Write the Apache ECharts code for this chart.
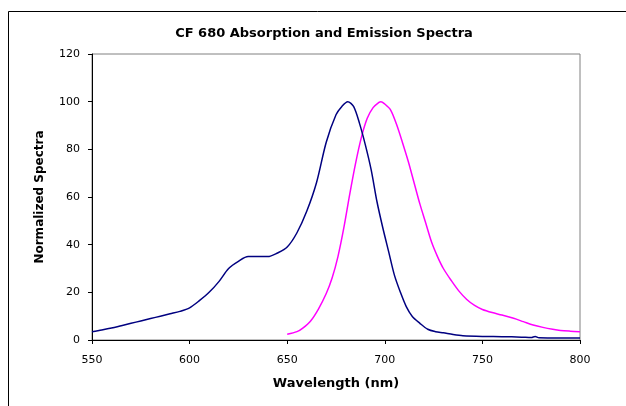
<!DOCTYPE html>
<html>
<head>
<meta charset="utf-8">
<script src="https://cdn.jsdelivr.net/npm/echarts@6/dist/echarts.min.js"></script>
<style>
  html, body { margin: 0; padding: 0; background: #fff; }
  #chart { width: 626px; height: 406px; }
</style>
</head>
<body>
<div id="chart"></div>
<script>
// absorption (navy) - wavelength nm / normalized value
var absWl = [550, 555, 560, 565, 570, 575, 580, 585, 590, 595, 600, 605, 610, 615, 620, 625, 630, 635, 640, 645, 650, 655, 660, 665, 670, 675, 678, 681, 684, 687, 690, 693, 696, 699, 702, 705, 708, 711, 714, 718, 722, 726, 730, 735, 740, 750, 760, 770, 775, 777, 779, 790, 800];
var absVal = [3.5, 4.2, 5.0, 6.0, 7.0, 8.0, 9.0, 10.0, 11.0, 12.0, 13.5, 16.5, 20.0, 24.5, 30.0, 33.0, 35.0, 35.0, 35.0, 36.5, 39.0, 45.0, 54.0, 66.0, 83.0, 94.5, 98.0, 100, 98.0, 91.0, 82.0, 71.5, 58.0, 47.0, 37.0, 27.0, 20.0, 14.0, 10.0, 7.0, 4.5, 3.5, 3.0, 2.3, 1.8, 1.5, 1.4, 1.2, 1.0, 1.5, 0.9, 0.8, 0.8];

// emission (magenta)
var emWl = [650, 655, 658, 662, 666, 670, 673, 676, 679, 682, 685, 688, 691, 694, 697, 698, 700, 703, 706, 709, 712, 715, 718, 721, 724, 727, 730, 734, 738, 742, 746, 750, 755, 760, 766, 771, 776, 781, 786, 790, 795, 800];
var emVal = [2.4, 3.5, 5.0, 8.0, 13.0, 19.5, 26.0, 35.0, 47.0, 61.0, 74.0, 85.0, 93.0, 97.5, 99.7, 100, 99.0, 96.5, 90.5, 83.0, 75.0, 66.0, 57.0, 49.0, 41.0, 35.0, 30.0, 25.0, 20.5, 17.0, 14.5, 12.8, 11.5, 10.5, 9.1, 7.7, 6.3, 5.3, 4.5, 4.0, 3.7, 3.5];

var xTicks = [550, 600, 650, 700, 750, 800];
var yTicks = [0, 20, 40, 60, 80, 100, 120];

function pairs(xs, ys) {
  return xs.map(function (x, i) { return [x, ys[i]]; });
}

var font = "'DejaVu Sans', 'Liberation Sans', sans-serif";
var chart = echarts.init(document.getElementById("chart"), null, { renderer: "canvas" });

chart.setOption({
  animation: false,
  backgroundColor: "#fff",
  title: {
    text: "CF 680 Absorption and Emission Spectra",
    left: 319,
    top: 22,
    textAlign: "center",
    textStyle: { fontFamily: font, fontSize: 13, fontWeight: "bold", color: "#000" }
  },
  graphic: [
    {
      type: "rect",
      shape: { x: 8.5, y: 11.5, width: 700, height: 500 },
      style: { fill: "none", stroke: "#000", lineWidth: 1 },
      silent: true
    }
  ],
  grid: {
    left: 92,
    right: 46,
    top: 54,
    bottom: 66,
    show: true,
    borderColor: "#808080",
    borderWidth: 1
  },
  xAxis: {
    type: "value",
    min: xTicks[0],
    max: xTicks[xTicks.length - 1],
    interval: 50,
    name: "Wavelength (nm)",
    nameLocation: "middle",
    nameGap: 37,
    nameTextStyle: { fontFamily: font, fontSize: 13, fontWeight: "bold", color: "#000" },
    axisLine: { lineStyle: { color: "#000", width: 1 } },
    axisTick: { inside: false, length: 4, lineStyle: { color: "#000" } },
    axisLabel: { fontFamily: font, fontSize: 11, color: "#000", margin: 15 },
    splitLine: { show: false }
  },
  yAxis: {
    type: "value",
    min: yTicks[0],
    max: yTicks[yTicks.length - 1],
    interval: 20,
    name: "Normalized Spectra",
    nameLocation: "middle",
    nameGap: 46,
    nameTextStyle: { fontFamily: font, fontSize: 12, fontWeight: "bold", color: "#000" },
    axisLine: { show: true, lineStyle: { color: "#000", width: 1 } },
    axisTick: { show: true, inside: false, length: 4, lineStyle: { color: "#000" } },
    axisLabel: { fontFamily: font, fontSize: 11, color: "#000", margin: 12 },
    splitLine: { show: false }
  },
  series: [
    {
      name: "Absorption",
      type: "line",
      data: pairs(absWl, absVal),
      showSymbol: false,
      smooth: 0.3,
      lineStyle: { color: "#000080", width: 1.5 },
      itemStyle: { color: "#000080" },
      z: 3
    },
    {
      name: "Emission",
      type: "line",
      data: pairs(emWl, emVal),
      showSymbol: false,
      smooth: 0.3,
      lineStyle: { color: "#FF00FF", width: 1.5 },
      itemStyle: { color: "#FF00FF" },
      z: 2
    }
  ]
});
</script>
</body>
</html>
